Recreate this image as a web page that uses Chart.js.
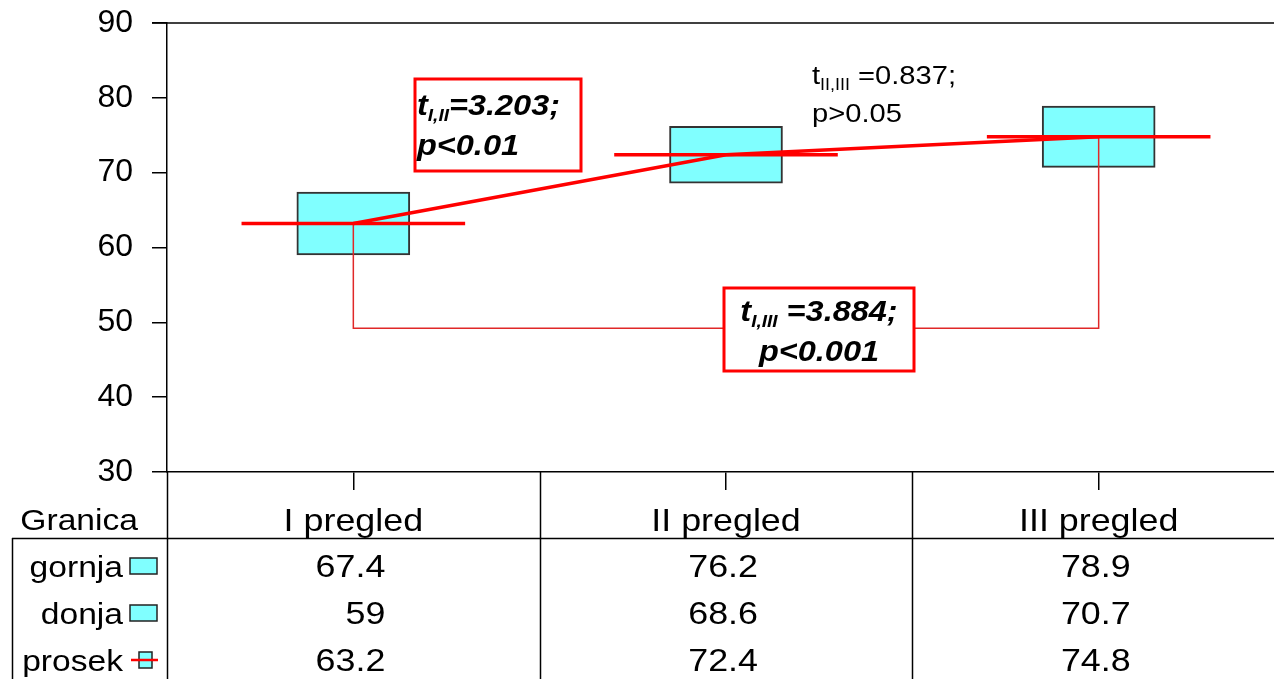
<!DOCTYPE html>
<html>
<head>
<meta charset="utf-8">
<script src="https://cdn.jsdelivr.net/npm/chart.js@4/dist/chart.umd.min.js"></script>
<style>
  html, body { margin: 0; padding: 0; background: #fff; overflow: hidden; }
  #wrap { width: 1290px; height: 679px; }
</style>
</head>
<body>
<div id="wrap"><canvas id="c"></canvas></div>
<script>
// podaci
const categories = ['I pregled', 'II pregled', 'III pregled'];
const gornja = [67.4, 76.2, 78.9];
const donja = [59, 68.6, 70.7];
const prosek = [63.2, 72.4, 74.8];
const yTicks = [30, 40, 50, 60, 70, 80, 90];
const rowNames = ['gornja', 'donja', 'prosek'];
const bracketLevel = 49.2; // nivo linije t I,III

const FONT = '"Liberation Sans", Arial, sans-serif';
const RED = '#ff0000';
const CYAN = '#80ffff';
const MEAN_HALF = 0.3;
const STRETCH = 1.12; // tekst u originalu je malo razvucen

const meanSets = prosek.map((m, i) => ({
    type: 'line',
    data: [{ x: i - MEAN_HALF, y: m }, { x: i + MEAN_HALF, y: m }],
    borderColor: RED, borderWidth: 3.5, pointRadius: 0, order: 2
}));

// tekst razvucen horizontalno
function txt(ctx, s, x, y, font, align) {
    ctx.save();
    ctx.font = font;
    ctx.textAlign = align || 'left';
    ctx.translate(x, y);
    ctx.scale(STRETCH, 1);
    ctx.fillText(s, 0, 0);
    ctx.restore();
}
function tw(ctx, s, font) {
    ctx.font = font;
    return ctx.measureText(s).width * STRETCH;
}

// crta tekst sa indeksom: t + sub + ostatak
function drawSub(ctx, x, y, main, sub, rest, big, small, align) {
    const w1 = tw(ctx, main, big), w2 = tw(ctx, sub, small), w3 = tw(ctx, rest, big);
    let sx = x;
    if (align === 'center') sx = x - (w1 + w2 + w3) / 2;
    txt(ctx, main, sx, y, big);
    txt(ctx, sub, sx + w1, y + 6, small);
    txt(ctx, rest, sx + w1 + w2, y, big);
}

const extras = {
    id: 'extras',
    afterDatasetsDraw(chart) {
        const ctx = chart.ctx, a = chart.chartArea;
        ctx.save();
        // gornja ivica
        ctx.strokeStyle = '#000'; ctx.lineWidth = 1.5;
        ctx.beginPath(); ctx.moveTo(a.left - 15, a.top); ctx.lineTo(a.right, a.top); ctx.stroke();

        ctx.textBaseline = 'alphabetic';
        const bi = 'italic bold 29px ' + FONT, biS = 'italic bold 17px ' + FONT;
        // okvir 1
        ctx.fillStyle = '#fff'; ctx.fillRect(415, 79, 166, 92);
        ctx.strokeStyle = RED; ctx.lineWidth = 3; ctx.strokeRect(415, 79, 166, 92);
        ctx.fillStyle = '#000';
        drawSub(ctx, 417, 115, 't', 'I,II', '=3.203;', bi, biS, 'left');
        txt(ctx, 'p<0.01', 417, 155, bi);

        // okvir 2
        ctx.fillStyle = '#fff'; ctx.fillRect(724, 288, 190, 83);
        ctx.strokeStyle = RED; ctx.lineWidth = 3; ctx.strokeRect(724, 288, 190, 83);
        ctx.fillStyle = '#000';
        drawSub(ctx, 819, 321, 't', 'I,III', ' =3.884;', bi, biS, 'center');
        txt(ctx, 'p<0.001', 819, 361, bi, 'center');

        // tekst 3
        drawSub(ctx, 812, 84, 't', 'II,III', ' =0.837;', '26px ' + FONT, '16px ' + FONT, 'left');
        txt(ctx, 'p>0.05', 812, 122, '26px ' + FONT);
        ctx.restore();
    },
    afterDraw(chart) {
        const ctx = chart.ctx, a = chart.chartArea, xs = chart.scales.x;
        const H = chart.height;
        ctx.save();
        ctx.strokeStyle = '#000'; ctx.lineWidth = 1.5;
        // vertikalne linije tabele
        [-0.5, 0.5, 1.5].forEach(b => {
            const px = Math.round(xs.getPixelForValue(b)) + 0.5;
            ctx.beginPath(); ctx.moveTo(px, a.bottom); ctx.lineTo(px, H); ctx.stroke();
        });
        ctx.beginPath(); ctx.moveTo(12, 538.5); ctx.lineTo(a.right, 538.5); ctx.stroke();
        ctx.beginPath(); ctx.moveTo(12.5, 538); ctx.lineTo(12.5, H); ctx.stroke();

        ctx.fillStyle = '#000'; ctx.textBaseline = 'alphabetic';
        txt(ctx, 'Granica', 138, 530, '30px ' + FONT, 'right');
        categories.forEach((c, i) => txt(ctx, c, xs.getPixelForValue(i), 531, '32px ' + FONT, 'center'));

        const rows = [gornja, donja, prosek];
        const base = [577, 624, 671];
        rows.forEach((vals, r) => {
            ctx.fillStyle = '#000';
            txt(ctx, rowNames[r], 123, base[r], '30px ' + FONT, 'right');
            const cy = base[r] - 11;
            ctx.lineWidth = 1.5; ctx.strokeStyle = '#222'; ctx.fillStyle = CYAN;
            if (r < 2) {
                ctx.fillRect(130, cy - 8, 27, 16); ctx.strokeRect(130, cy - 8, 27, 16);
            } else {
                ctx.fillRect(139, cy - 8, 13, 16); ctx.strokeRect(139, cy - 8, 13, 16);
                ctx.strokeStyle = RED; ctx.lineWidth = 2.5;
                ctx.beginPath(); ctx.moveTo(131, cy); ctx.lineTo(158, cy); ctx.stroke();
            }
            ctx.fillStyle = '#000';
            vals.forEach((v, i) => txt(ctx, String(v), xs.getPixelForValue(i) + 32, base[r], '32px ' + FONT, 'right'));
        });
        ctx.restore();
    }
};

new Chart(document.getElementById('c'), {
    type: 'bar',
    data: {
        datasets: [
            {
                type: 'bar',
                data: categories.map((c, i) => ({ x: i, y: [donja[i], gornja[i]] })),
                backgroundColor: CYAN, borderColor: '#333', borderWidth: 2,
                borderSkipped: false, barThickness: 113, grouped: false, order: 10
            },
            ...meanSets,
            {
                type: 'line',
                data: prosek.map((m, i) => ({ x: i, y: m })),
                borderColor: RED, borderWidth: 3.5, pointRadius: 0, tension: 0, order: 1
            },
            {
                type: 'line',
                data: [
                    { x: 0, y: prosek[0] }, { x: 0, y: bracketLevel },
                    { x: 2, y: bracketLevel }, { x: 2, y: prosek[2] }
                ],
                borderColor: '#e02828', borderWidth: 1.5, pointRadius: 0, order: 3
            }
        ]
    },
    options: {
        responsive: true, maintainAspectRatio: false, animation: false, devicePixelRatio: 1,
        layout: { padding: { top: 23, right: 5, left: 0, bottom: 0 } },
        plugins: { legend: { display: false }, tooltip: { enabled: false } },
        scales: {
            x: {
                type: 'linear', min: -0.5, max: 2.5, offset: false,
                afterBuildTicks: s => { s.ticks = categories.map((c, i) => ({ value: i })); },
                afterFit: s => { s.height = 207; s.paddingLeft = 0; s.paddingRight = 0; },
                ticks: { display: false },
                grid: { offset: false, drawOnChartArea: false, tickLength: 18, color: '#000', lineWidth: 1.5 },
                border: { display: true, color: '#000', width: 1.5 }
            },
            y: {
                min: 30, max: 90,
                afterBuildTicks: s => { s.ticks = yTicks.map(v => ({ value: v })); },
                afterFit: s => { s.width = 167; s.paddingTop = 0; s.paddingBottom = 0; },
                ticks: { color: '#000', padding: 19, font: { family: FONT, size: 32 } },
                grid: { drawOnChartArea: false, tickLength: 15, color: '#000', lineWidth: 1.5 },
                border: { display: true, color: '#000', width: 1.5 }
            }
        }
    },
    plugins: [extras]
});
</script>
</body>
</html>
